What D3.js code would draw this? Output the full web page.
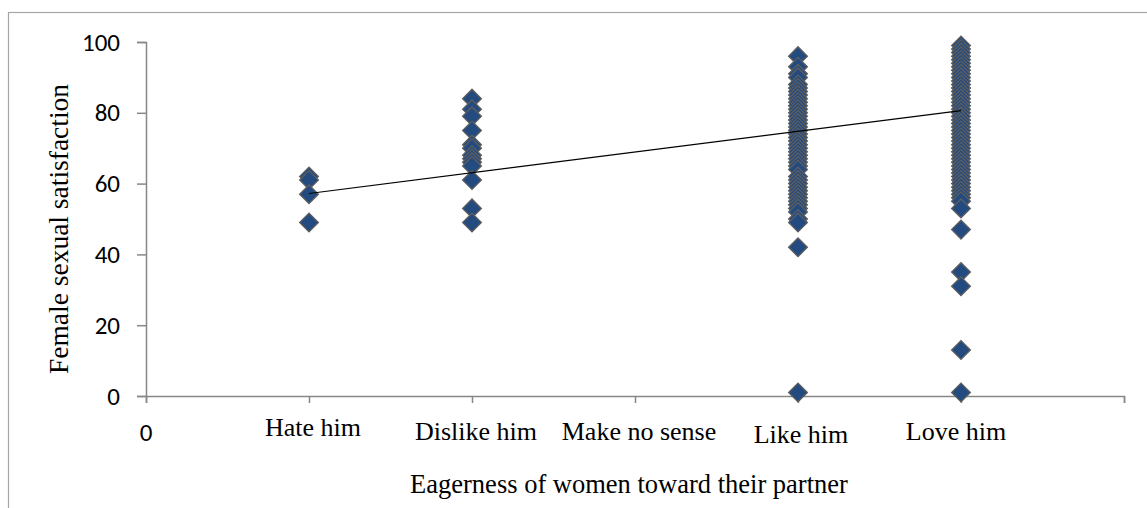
<!DOCTYPE html>
<html>
<head>
<meta charset="utf-8">
<script src="https://cdn.jsdelivr.net/npm/d3@7"></script>
<style>
    body { margin: 0; background: #fff; }
    .serif { font-family: "Liberation Serif", "Times New Roman", serif; fill: #000; }
    .sans { font-family: Carlito, Calibri, "Liberation Sans", sans-serif; fill: #000; }
</style>
</head>
<body>
<svg id="chart" width="1147" height="508"></svg>
<script>
// category labels on the x axis (0..6)
const categories = ["0", "Hate him", "Dislike him", "Make no sense", "Like him", "Love him", ""];
const yTicks = [0, 20, 40, 60, 80, 100];

// satisfaction scores per group (x = category position)
const hateHim = [62, 61, 57, 49];
const dislikeHim = [84, 81, 79, 75, 71, 70, 68, 67, 66, 65, 61, 53, 49];
const likeHim = [96, 93, 91, 90, 88, 87, 86, 85, 84, 83, 82, 81, 80, 79, 78, 77, 76, 75, 74, 73,
    72, 71, 70, 69, 68, 67, 66, 65, 64, 62, 61, 60, 59, 58, 57, 56, 55, 54, 53, 52, 50, 49, 42, 1];
const loveHim = [99, 98, 97, 96, 95, 94, 93, 92, 91, 90, 89, 88, 87, 86, 85, 84, 83, 82, 81, 80,
    79, 78, 77, 76, 75, 74, 73, 72, 71, 70, 69, 68, 67, 66, 65, 64, 63, 62, 61, 60, 59, 58, 57,
    56, 55, 53, 47, 35, 31, 13, 1];

// linear trendline: [intercept, slope], spanning x = 1..5
const trend = [51.35, 5.85];
const trendRange = [1, 5];

const groups = [
    { x: 1, values: hateHim },
    { x: 2, values: dislikeHim },
    { x: 4, values: likeHim },
    { x: 5, values: loveHim },
];

const svg = d3.select("#chart");

const x = d3.scaleLinear().domain([0, 6]).range([146, 1124]);
const y = d3.scaleLinear().domain([0, 100]).range([396, 42]);

// outer chart border (only top and left are visible in the frame)
svg.append("rect")
    .attr("x", 8.5)
    .attr("y", 12.5)
    .attr("width", 1200)
    .attr("height", 600)
    .attr("fill", "none")
    .attr("stroke", "#a6a6a6")
    .attr("stroke-width", 1.2);

const axisColor = "#878787";

// y axis
const yAxis = svg.append("g")
    .attr("transform", `translate(${x(0)},0)`)
    .call(d3.axisLeft(y).tickValues(yTicks).tickSize(9).tickPadding(17));
yAxis.select(".domain").attr("stroke", axisColor).attr("stroke-width", 1.5);
yAxis.selectAll(".tick line").attr("stroke", axisColor).attr("stroke-width", 1.5);
yAxis.selectAll(".tick text")
    .attr("class", "sans")
    .attr("font-size", 25)
    .attr("font-family", null);

// x axis
const xAxis = svg.append("g")
    .attr("transform", `translate(0,${y(0)})`)
    .call(d3.axisBottom(x).tickValues(d3.range(0, 7)).tickSize(7).tickFormat(""));
xAxis.select(".domain").attr("stroke", axisColor).attr("stroke-width", 1.5);
xAxis.selectAll(".tick line").attr("stroke", axisColor).attr("stroke-width", 1.5);

// category labels
svg.append("g")
    .selectAll("text")
    .data(categories)
    .join("text")
    .attr("class", (d, i) => (i === 0 ? "sans" : "serif"))
    .attr("x", (d, i) => x(i) + (i === 0 ? 0 : i === 4 ? 3 : i === 5 ? -5 : 4))
    .attr("y", (d, i) => (i === 0 ? 441 : i === 1 ? 436 : i === 4 ? 443 : 440))
    .attr("text-anchor", "middle")
    .attr("font-size", (d, i) => (i === 0 ? 25 : 26))
    .text((d) => d);

// diamond markers
const points = groups.flatMap((g) => g.values.map((v) => ({ x: g.x, v: v })));
const diamond = d3.symbol().type(d3.symbolSquare).size(176);

svg.append("g")
    .selectAll("path")
    .data(points)
    .join("path")
    .attr("d", diamond)
    .attr("transform", (d) => `translate(${x(d.x)},${y(d.v)}) rotate(45)`)
    .attr("fill", "#234b80")
    .attr("stroke", "#5e5e5e")
    .attr("stroke-width", 1.3);

// trendline on top of the markers
svg.append("line")
    .attr("x1", x(trendRange[0]))
    .attr("y1", y(trend[0] + trend[1] * trendRange[0]))
    .attr("x2", x(trendRange[1]))
    .attr("y2", y(trend[0] + trend[1] * trendRange[1]))
    .attr("stroke", "#000")
    .attr("stroke-width", 1.2);

// axis titles
svg.append("text")
    .attr("class", "serif")
    .attr("text-anchor", "middle")
    .attr("font-size", 27.5)
    .attr("transform", `translate(68,229) rotate(-90)`)
    .text("Female sexual satisfaction");

svg.append("text")
    .attr("class", "serif")
    .attr("text-anchor", "middle")
    .attr("font-size", 26.5)
    .attr("x", 629)
    .attr("y", 493)
    .text("Eagerness of women toward their partner");
</script>
</body>
</html>
